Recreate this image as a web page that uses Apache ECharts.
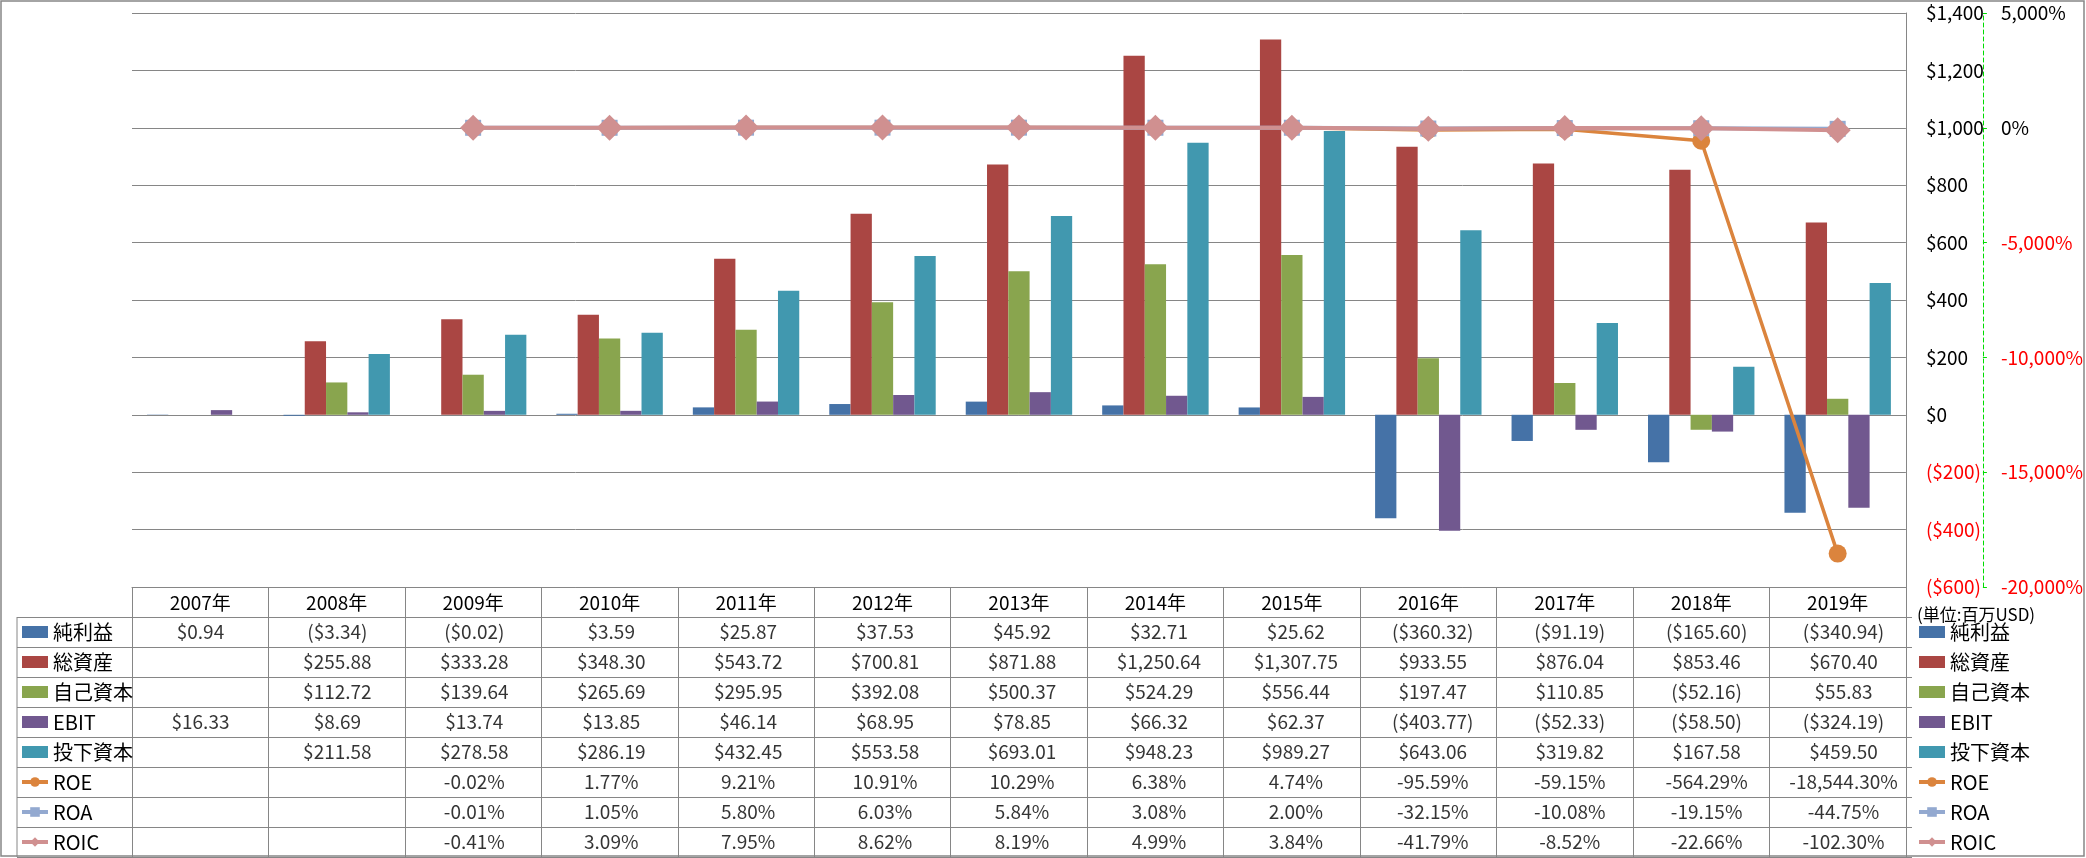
<!DOCTYPE html>
<html><head><meta charset="utf-8">
<script src="https://cdn.jsdelivr.net/npm/echarts@6/dist/echarts.min.js"></script>
<style>html,body{margin:0;padding:0;background:#fff}#c{width:2086px;height:858px}</style>
</head><body><div id="c"></div>
<script>
// ---- data ----
const years = ['2007年','2008年','2009年','2010年','2011年','2012年','2013年','2014年','2015年','2016年','2017年','2018年','2019年'];
const rowNames = ['純利益','総資産','自己資本','EBIT','投下資本','ROE','ROA','ROIC'];
const netIncome = [0.94, -3.34, -0.02, 3.59, 25.87, 37.53, 45.92, 32.71, 25.62, -360.32, -91.19, -165.60, -340.94];
const totalAssets = [null, 255.88, 333.28, 348.30, 543.72, 700.81, 871.88, 1250.64, 1307.75, 933.55, 876.04, 853.46, 670.40];
const equity = [null, 112.72, 139.64, 265.69, 295.95, 392.08, 500.37, 524.29, 556.44, 197.47, 110.85, -52.16, 55.83];
const ebit = [16.33, 8.69, 13.74, 13.85, 46.14, 68.95, 78.85, 66.32, 62.37, -403.77, -52.33, -58.50, -324.19];
const investedCapital = [null, 211.58, 278.58, 286.19, 432.45, 553.58, 693.01, 948.23, 989.27, 643.06, 319.82, 167.58, 459.50];
const roe = [null, null, -0.02, 1.77, 9.21, 10.91, 10.29, 6.38, 4.74, -95.59, -59.15, -564.29, -18544.30];
const roa = [null, null, -0.01, 1.05, 5.80, 6.03, 5.84, 3.08, 2.00, -32.15, -10.08, -19.15, -44.75];
const roic = [null, null, -0.41, 3.09, 7.95, 8.62, 8.19, 4.99, 3.84, -41.79, -8.52, -22.66, -102.30];
const usdAxis = {min: -600, max: 1400, interval: 200};
const pctAxis = {min: -20000, max: 5000, interval: 5000};
const unitNote = '(単位:百万USD)';

// ---- styles ----
const FONT = '"Noto Sans CJK JP", "Noto Sans", sans-serif';
const GRAY = '#868686';
const colors = ['#4572A7','#AA4643','#89A54E','#71588F','#4198AF','#DB843D','#93A9D0','#D09090'];

function fmt(v, d){ return Math.abs(v).toLocaleString('en-US',{minimumFractionDigits:d, maximumFractionDigits:d}); }
function money(v){ return v == null ? '' : (v < 0 ? '($' + fmt(v,2) + ')' : '$' + fmt(v,2)); }
function pct(v){ return v == null ? '' : (v < 0 ? '-' : '') + fmt(v,2) + '%'; }

const barRows = [netIncome, totalAssets, equity, ebit, investedCapital];
const lineRows = [roe, roa, roic];
const tableCells = [];
barRows.forEach((arr, r) => arr.forEach((v, c) => { if (v != null) tableCells.push({name: money(v), value: [c, r]}); }));
lineRows.forEach((arr, r) => arr.forEach((v, c) => { if (v != null) tableCells.push({name: pct(v), value: [c, r + 5]}); }));

const chart = echarts.init(document.getElementById('c'), null, {renderer: 'canvas'});

const legendData = rowNames.map((n, i) => i < 5 ? {name: n, icon: 'rect'} : {name: n, lineStyle: {width: 4}});
const legendCommon = {
  orient: 'vertical', data: legendData, itemWidth: 26, itemHeight: 12, itemGap: 10,
  selectedMode: false, padding: 0, height: 235,
  textStyle: {fontSize: 20, color: '#000', fontFamily: FONT, lineHeight: 20}
};

const barSeries = barRows.map((arr, i) => ({
  name: rowNames[i], type: 'bar', xAxisIndex: 0, yAxisIndex: 0, data: arr,
  barGap: '0%', barCategoryGap: '22%', itemStyle: {color: colors[i]}, z: 2
}));
const lineSymbols = [['circle', 18, 3.5], ['rect', 16, 4], ['diamond', 26, 4]];
const lineSeries = lineRows.map((arr, i) => ({
  name: rowNames[5 + i], type: 'line', xAxisIndex: 0, yAxisIndex: 1, data: arr,
  symbol: lineSymbols[i][0], symbolSize: lineSymbols[i][1], showSymbol: true,
  lineStyle: {color: colors[5 + i], width: lineSymbols[i][2]},
  itemStyle: {color: colors[5 + i]}, z: 3 + i
}));

const option = {
  animation: false,
  backgroundColor: '#fff',
  textStyle: {fontFamily: FONT},
  grid: [
    {left: 132, right: 174, top: 13, bottom: 271},
    {left: 132, right: 174, top: 617, bottom: 1}
  ],
  legend: [
    Object.assign({left: 20, top: 622}, legendCommon),
    Object.assign({left: 1917, top: 622}, legendCommon)
  ],
  xAxis: [
    {type: 'category', gridIndex: 0, data: years, position: 'bottom',
     axisLine: {onZero: false, lineStyle: {color: GRAY, width: 1}},
     axisTick: {show: true, length: 270, lineStyle: {color: GRAY, width: 1}},
     axisLabel: {fontSize: 19, color: '#000', margin: 6, fontFamily: FONT},
     splitLine: {show: false}},
    {type: 'category', gridIndex: 1, data: years, show: false}
  ],
  yAxis: [
    {type: 'value', gridIndex: 0, position: 'right', min: usdAxis.min, max: usdAxis.max, interval: usdAxis.interval,
     axisLine: {show: true, lineStyle: {color: GRAY, width: 1}},
     axisTick: {show: false},
     splitLine: {show: true, lineStyle: {color: GRAY, width: 1}},
     axisLabel: {margin: 20, fontSize: 19, fontFamily: FONT,
       formatter: v => v < 0 ? '($' + fmt(v,0) + ')' : '$' + fmt(v,0),
       color: v => (+v < 0 ? '#FF0000' : '#000')}},
    {type: 'value', gridIndex: 0, position: 'right', offset: 77, min: pctAxis.min, max: pctAxis.max, interval: pctAxis.interval,
     axisLine: {show: true, lineStyle: {color: '#00DD00', width: 1, type: [4, 3]}},
     axisTick: {show: true, length: 4, lineStyle: {color: '#00DD00', width: 1}},
     splitLine: {show: false},
     axisLabel: {margin: 18, fontSize: 19, fontFamily: FONT,
       formatter: v => (v < 0 ? '-' : '') + fmt(v,0) + '%',
       color: v => (+v < 0 ? '#FF0000' : '#000')}},
    {type: 'category', gridIndex: 1, data: rowNames, inverse: true,
     axisLine: {show: true, lineStyle: {color: GRAY, width: 1}},
     axisTick: {show: true, length: 115, lineStyle: {color: GRAY, width: 1}},
     axisLabel: {show: false},
     splitLine: {show: true, lineStyle: {color: GRAY, width: 1}}}
  ],
  series: barSeries.concat(lineSeries).concat([{
    name: 'table', type: 'scatter', xAxisIndex: 1, yAxisIndex: 2, data: tableCells,
    symbolSize: 0, silent: true,
    label: {show: true, position: 'inside', formatter: '{b}', fontSize: 19, color: '#000', fontFamily: FONT}
  }]),
  graphic: [
    {type: 'line', shape: {x1: 17, y1: 617, x2: 17, y2: 857}, style: {stroke: GRAY, lineWidth: 1}},
    {type: 'rect', shape: {x: 1, y: 1, width: 2083, height: 855}, style: {fill: null, stroke: GRAY, lineWidth: 1.5}, silent: true},
    {type: 'text', left: 1917, top: 606, style: {text: unitNote, fontSize: 17, fill: '#000', fontFamily: FONT}}
  ]
};
chart.setOption(option);
</script></body></html>
